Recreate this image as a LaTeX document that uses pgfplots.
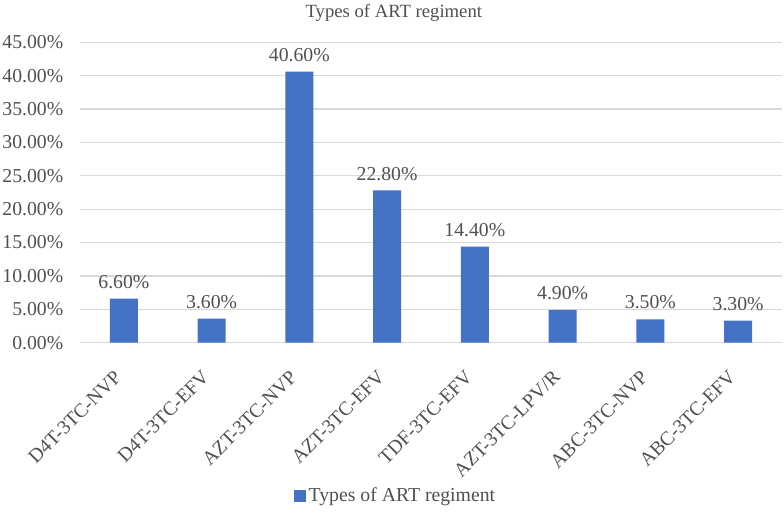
\documentclass[border=0pt]{standalone}
\usepackage{fontspec}
\setmainfont{Liberation Serif}
\usepackage{pgfplots}
\pgfplotsset{compat=1.18}
\definecolor{barblue}{HTML}{4472C4}
\definecolor{txt}{HTML}{505050}
\definecolor{gridc}{HTML}{D9D9D9}
\begin{document}
\begin{tikzpicture}
\begin{axis}[
  at={(0pt,0pt)}, anchor=south west,
  scale only axis,
  width=526.5pt, height=225.3pt,
  xmin=-0.5, xmax=7.5,
  ymin=0, ymax=45,
  ytick={0,5,...,45},
  xtick=data,
  xticklabels={D4T-3TC-NVP,D4T-3TC-EFV,AZT-3TC-NVP,AZT-3TC-EFV,TDF-3TC-EFV,AZT-3TC-LPV/R,ABC-3TC-NVP,ABC-3TC-EFV},
  /pgf/number format/assume math mode=true,
  yticklabel={\pgfmathprintnumber[fixed,fixed zerofill,precision=2]{\tick}\%},
  ymajorgrids, major grid style={gridc, line width=0.9pt},
  axis line style={draw=none},
  major tick length=0pt,
  tick label style={font=\fontsize{14.8pt}{17pt}\selectfont, text=txt},
  yticklabel style={xshift=-9pt},
  x tick label style={xshift=-2pt, yshift=-21pt, rotate=45, anchor=east},
  title={Types of ART regiment},
  title style={font=\fontsize{14pt}{17pt}\selectfont, text=txt, at={(0.447,1)}, anchor=center, yshift=16pt},
  ybar, bar width=21pt,
  nodes near coords={\pgfmathprintnumber[fixed,fixed zerofill,precision=2]{\pgfplotspointmeta}\%},
  nodes near coords style={font=\fontsize{14.8pt}{17pt}\selectfont, text=txt, yshift=4pt},
  legend style={at={(0.45,-0.51)}, anchor=center, draw=none, font=\fontsize{14.8pt}{17pt}\selectfont, text=txt},
  legend image code/.code={\fill[barblue] (0pt,-4.5pt) rectangle (9pt,4.5pt);},
]
\addplot[fill=barblue, draw=none] coordinates {(0,6.6) (1,3.6) (2,40.6) (3,22.8) (4,14.4) (5,4.9) (6,3.5) (7,3.3)};
\addlegendentry{Types of ART regiment}
\end{axis}
\pgfresetboundingbox
\path (-60pt,-127pt) rectangle (528pt,257pt);
\end{tikzpicture}
\end{document}
